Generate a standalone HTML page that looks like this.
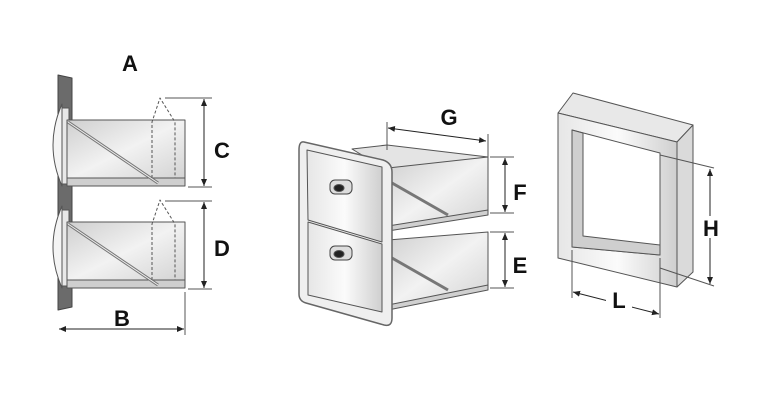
<!DOCTYPE html>
<html><head><meta charset="utf-8"><style>
html,body{margin:0;padding:0;background:#fff;width:768px;height:400px;overflow:hidden}
text{font-family:"Liberation Sans",sans-serif;font-weight:bold;font-size:22px;fill:#111}
</style></head><body>
<svg width="768" height="400" viewBox="0 0 768 400" xmlns="http://www.w3.org/2000/svg">
<defs>
<linearGradient id="g1" x1="0" y1="0" x2="1" y2="1"><stop offset="0" stop-color="#cfcfcf"/><stop offset=".5" stop-color="#f2f2f2"/><stop offset="1" stop-color="#d2d2d2"/></linearGradient>
<linearGradient id="g2" x1="0" y1="0" x2="1" y2="0"><stop offset="0" stop-color="#e6e6e6"/><stop offset=".5" stop-color="#fbfbfb"/><stop offset="1" stop-color="#cfcfcf"/></linearGradient>
<marker id="ar" markerWidth="8" markerHeight="8" refX="7" refY="4" orient="auto-start-reverse" markerUnits="userSpaceOnUse"><path d="M0,1 L7,4 L0,7 z" fill="#222"/></marker>
</defs>
<g stroke="#555" stroke-width="1" stroke-linejoin="round">
<!-- LEFT FIGURE -->
<polygon points="58,75 72,78 72,307 58,310" fill="#6b6b6b" stroke="#444"/>
<g id="drw">
<path d="M62,104 Q44,145 62,186 Z" fill="#f4f4f4"/>
<rect x="62" y="108" width="7" height="76" fill="#e8e8e8"/>
<rect x="67" y="120" width="118" height="60" fill="url(#g1)"/>
<rect x="67" y="178" width="118" height="8" fill="#cfcfcf"/>
<line x1="68" y1="122" x2="158" y2="183" stroke="#777" stroke-width="3"/>
<line x1="68" y1="122" x2="158" y2="183" stroke="#eee" stroke-width="1"/>
<path d="M152,178 L152,122 L160,98 L175,122 L175,178" fill="none" stroke-dasharray="3,2"/>
</g>
<use href="#drw" transform="translate(0,102)"/>
<line x1="165" y1="98" x2="212" y2="98"/><line x1="188" y1="187" x2="212" y2="187"/>
<line x1="204" y1="99" x2="204" y2="186" stroke="#222" marker-start="url(#ar)" marker-end="url(#ar)"/>
<line x1="165" y1="201" x2="212" y2="201"/><line x1="188" y1="289" x2="212" y2="289"/>
<line x1="204" y1="202" x2="204" y2="288" stroke="#222" marker-start="url(#ar)" marker-end="url(#ar)"/>
<line x1="185" y1="292" x2="185" y2="335"/>
<line x1="59" y1="329" x2="184" y2="329" stroke="#222" marker-start="url(#ar)" marker-end="url(#ar)"/>

<!-- MIDDLE FIGURE -->
<polygon points="352,149 387,145 488,157 390,172" fill="#e4e4e4"/>
<polygon points="388,168 488,157 488,213 388,228" fill="url(#g1)"/>
<polygon points="388,226 488,210 488,215 388,231" fill="#d0d0d0"/>
<polygon points="388,240 488,232 488,288 388,307" fill="url(#g1)"/>
<polygon points="388,305 488,285 488,290 388,310" fill="#d0d0d0"/>
<line x1="392" y1="183" x2="448" y2="215" stroke="#777" stroke-width="3"/>
<line x1="392" y1="258" x2="448" y2="290" stroke="#777" stroke-width="3"/>
<path d="M304,142 L383,160 Q392,163 392,172 L392,318 Q392,327 384,325 L306,303 Q299,301 299,294 L299,150 Q299,141 304,142 Z" fill="#efefef" stroke="#666" stroke-width="1.5"/>
<polygon points="307,150 382,167 382,242 308,220" fill="url(#g2)"/>
<polygon points="308,222 382,244 382,312 308,295" fill="url(#g2)"/>
<rect x="330" y="180" width="22" height="14" rx="5" fill="#ddd" stroke="#444"/>
<ellipse cx="339" cy="188" rx="5" ry="3.5" fill="#222"/>
<rect x="330" y="246" width="22" height="14" rx="5" fill="#ddd" stroke="#444"/>
<ellipse cx="339" cy="254" rx="5" ry="3.5" fill="#222"/>
<line x1="387" y1="122" x2="387" y2="150"/><line x1="488" y1="134" x2="488" y2="158"/>
<line x1="388" y1="128" x2="486" y2="141" stroke="#222" marker-start="url(#ar)" marker-end="url(#ar)"/>
<line x1="490" y1="157" x2="514" y2="157"/><line x1="490" y1="213" x2="514" y2="213"/>
<line x1="505" y1="158" x2="505" y2="212" stroke="#222" marker-start="url(#ar)" marker-end="url(#ar)"/>
<line x1="490" y1="232" x2="514" y2="232"/><line x1="490" y1="288" x2="514" y2="288"/>
<line x1="505" y1="233" x2="505" y2="287" stroke="#222" marker-start="url(#ar)" marker-end="url(#ar)"/>

<!-- RIGHT FIGURE -->
<polygon points="558,113 573,93 693,125 677,142" fill="#e8e8e8"/>
<polygon points="677,142 693,125 693,272 677,287" fill="#dadada"/>
<path d="M558,113 L677,142 L677,287 L558,258 Z M572,130 L572,247 L660,255 L660,153 Z" fill="url(#g2)" fill-rule="evenodd"/>
<polygon points="572,130 583,133 583,236 660,245 660,255 572,247" fill="#cfcfcf"/>
<line x1="660" y1="155" x2="714" y2="168"/><line x1="660" y1="268" x2="714" y2="286"/>
<line x1="710" y1="169" x2="710" y2="284" stroke="#222" marker-start="url(#ar)" marker-end="url(#ar)"/>
<line x1="572" y1="250" x2="572" y2="298"/><line x1="660" y1="258" x2="660" y2="318"/>
<line x1="573" y1="292" x2="659" y2="314" stroke="#222" marker-start="url(#ar)" marker-end="url(#ar)"/>
</g>
<rect x="111" y="308" width="24" height="20" fill="#fff"/>
<rect x="606" y="290" width="26" height="20" fill="#fff"/>
<rect x="700" y="216" width="22" height="22" fill="#fff"/>
<text x="130" y="71" text-anchor="middle">A</text>
<text x="122" y="326" text-anchor="middle">B</text>
<text x="222" y="158" text-anchor="middle">C</text>
<text x="222" y="256" text-anchor="middle">D</text>
<text x="449" y="125" text-anchor="middle">G</text>
<text x="520" y="200" text-anchor="middle">F</text>
<text x="520" y="273" text-anchor="middle">E</text>
<text x="711" y="236" text-anchor="middle">H</text>
<text x="619" y="308" text-anchor="middle">L</text>
</svg>
</body></html>
